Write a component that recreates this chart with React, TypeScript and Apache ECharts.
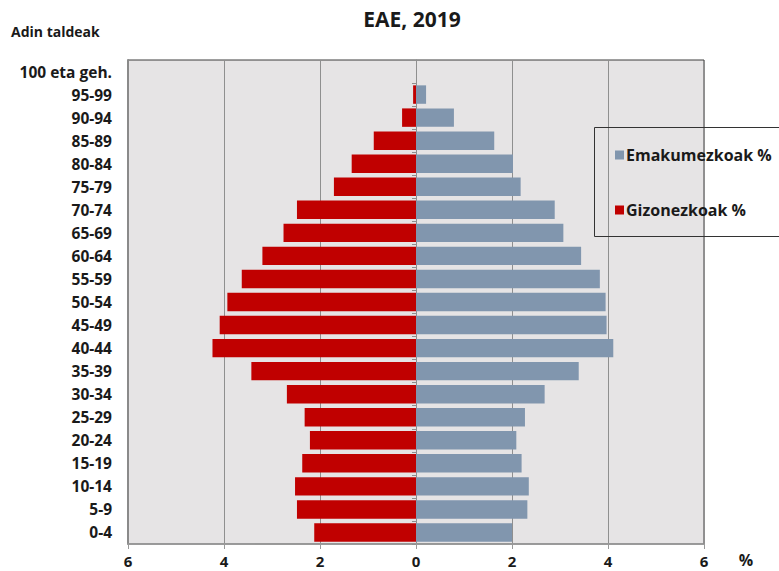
import React, { useEffect, useRef } from "react";
import * as echarts from "echarts";

const categories = [
  "0-4", "5-9", "10-14", "15-19", "20-24", "25-29", "30-34", "35-39", "40-44", "45-49",
  "50-54", "55-59", "60-64", "65-69", "70-74", "75-79", "80-84", "85-89", "90-94", "95-99",
  "100 eta geh.",
];
const femaleName = "Emakumezkoak %";
const maleName = "Gizonezkoak %";
const female = [2.0, 2.32, 2.35, 2.2, 2.09, 2.27, 2.68, 3.39, 4.11, 3.97, 3.95, 3.83, 3.44, 3.07, 2.89, 2.18, 2.02, 1.63, 0.79, 0.21, 0];
const male = [2.12, 2.48, 2.52, 2.37, 2.21, 2.32, 2.69, 3.43, 4.24, 4.09, 3.93, 3.63, 3.2, 2.76, 2.48, 1.71, 1.34, 0.88, 0.29, 0.06, 0];
const title = "EAE, 2019";
const yTitle = "Adin taldeak";
const xUnit = "%";

const FONT = "'Open Sans', 'Noto Sans', sans-serif";

export default function App() {
  const ref = useRef<HTMLDivElement>(null);
  useEffect(() => {
    document.body.style.margin = "0";
    const chart = echarts.init(ref.current!, null, { renderer: "svg" });
    chart.setOption({
      animation: false,
      textStyle: { fontFamily: FONT },
      grid: {
        left: 128,
        right: 75,
        top: 60,
        bottom: 27,
        show: true,
        backgroundColor: "#e6e4e5",
        borderColor: "#3c3c3c",
        borderWidth: 1,
      },
      legend: {
        data: [femaleName, maleName],
        orient: "vertical",
        left: 615,
        top: 146,
        itemWidth: 9,
        itemHeight: 9,
        itemGap: 37,
        icon: "rect",
        padding: 0,
        textStyle: { fontSize: 16, fontWeight: 700, color: "#1a1a1a", fontFamily: FONT, lineHeight: 18, padding: [0, 0, 0, -3] },
      },
      xAxis: {
        type: "value",
        min: -6,
        max: 6,
        interval: 2,
        axisLine: { show: true, onZero: false, lineStyle: { color: "#9a9a9a", width: 1.5 } },
        axisTick: { show: true, length: 5, lineStyle: { color: "#9a9a9a" } },
        splitLine: { show: true, lineStyle: { color: "#8f8f8f", width: 1 } },
        axisLabel: {
          fontSize: 15,
          fontWeight: 700,
          color: "#1a1a1a",
          margin: 9,
          formatter: (v: number) => String(Math.abs(v)),
        },
      },
      yAxis: [
        {
          type: "category",
          data: categories,
          position: "left",
          axisLine: { show: true, onZero: false, lineStyle: { color: "#8a8a8a", width: 2 } },
          axisTick: { show: false },
          axisLabel: { fontSize: 15.5, fontWeight: 700, color: "#1a1a1a", margin: 16 },
        },
        {
          type: "category",
          data: categories,
          position: "left",
          axisLine: { show: true, onZero: true, lineStyle: { color: "#8f8f8f", width: 1 } },
          axisTick: { show: true, length: 4, lineStyle: { color: "#8f8f8f" } },
          axisLabel: { show: false },
        },
      ],
      series: [
        {
          name: femaleName,
          type: "bar",
          stack: "total",
          data: female,
          barCategoryGap: "20%",
          itemStyle: { color: "#8196ae" },
        },
        {
          name: maleName,
          type: "bar",
          stack: "total",
          data: male.map((v) => -v),
          barCategoryGap: "20%",
          itemStyle: { color: "#c00000" },
        },
      ],
      graphic: [
        {
          type: "text",
          x: 412,
          y: 19,
          style: { text: title, fontSize: 21, fontWeight: 700, fill: "#1a1a1a", fontFamily: FONT, align: "center", verticalAlign: "middle" },
        },
        {
          type: "text",
          x: 11,
          y: 31,
          style: { text: yTitle, fontSize: 14, fontWeight: 700, fill: "#1a1a1a", fontFamily: FONT, align: "left", verticalAlign: "middle" },
        },
        {
          type: "text",
          x: 746,
          y: 560,
          style: { text: xUnit, fontSize: 16, fontWeight: 700, fill: "#1a1a1a", fontFamily: FONT, align: "center", verticalAlign: "middle" },
        },
        {
          type: "rect",
          shape: { x: 594.5, y: 127.5, width: 260, height: 109 },
          style: { fill: "none", stroke: "#333", lineWidth: 1 },
          z: 10,
        },
      ],
    });
    return () => chart.dispose();
  }, []);
  return <div ref={ref} style={{ width: 779, height: 571 }} />;
}
